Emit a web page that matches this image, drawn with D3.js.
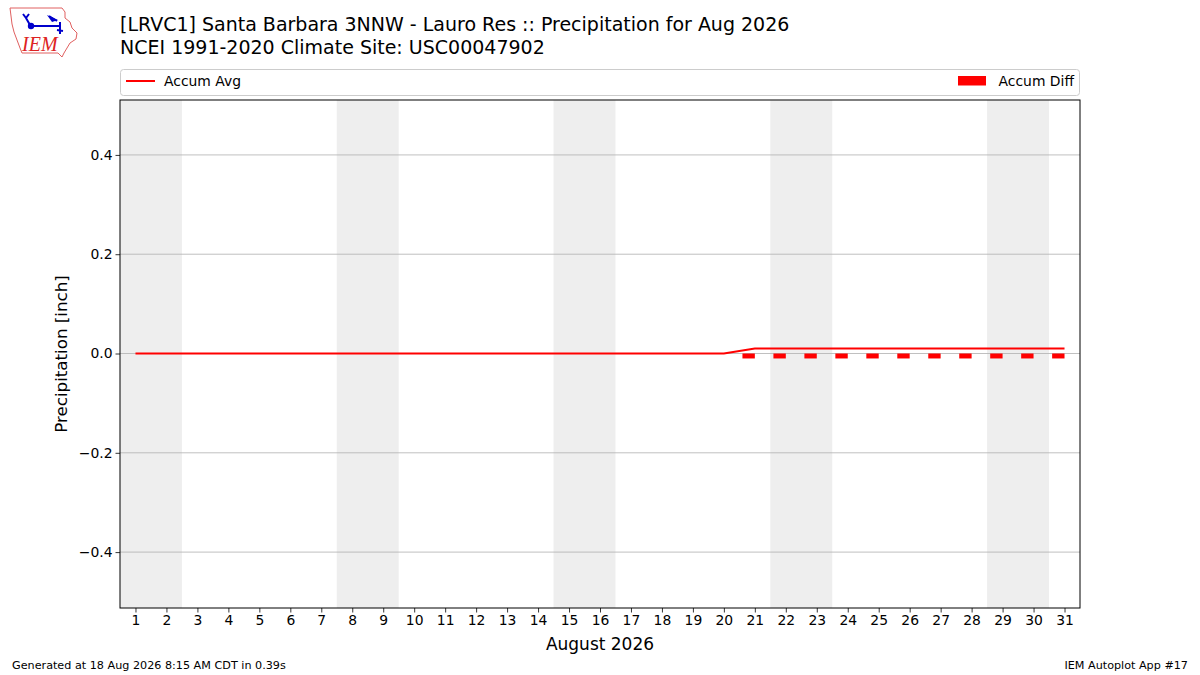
<!DOCTYPE html>
<html><head><meta charset="utf-8">
<script src="https://cdn.jsdelivr.net/npm/d3@7"></script>
<style>body{margin:0;background:#fff}svg{display:block;font-family:"DejaVu Sans",sans-serif}</style>
</head><body>
<script>
const days = d3.range(1, 32);
const accumAvg = [0,0,0,0,0,0,0,0,0,0,0,0,0,0,0,0,0,0,0,0,0.01,0.01,0.01,0.01,0.01,0.01,0.01,0.01,0.01,0.01,0.01];
const accumDiff = [0,0,0,0,0,0,0,0,0,0,0,0,0,0,0,0,0,0,0,0,-0.01,-0.01,-0.01,-0.01,-0.01,-0.01,-0.01,-0.01,-0.01,-0.01,-0.01];
const weekends = [[1,2],[8,9],[15,16],[22,23],[29,30]];
const yTicks = [-0.4,-0.2,0,0.2,0.4];
const titleLines = ["[LRVC1] Santa Barbara 3NNW - Lauro Res :: Precipitation for Aug 2026","NCEI 1991-2020 Climate Site: USC00047902"];

const W=1200,H=675;
const L=120,R=1080,T=100,B=608;
const svg=d3.select("body").append("svg").attr("width",W).attr("height",H);
const x=d3.scaleLinear().domain([0.5,31.5]).range([L,R]);
const y=d3.scaleLinear().domain([-0.5126,0.5106]).range([B,T]);

// weekend shading
svg.append("g").selectAll("rect").data(weekends).join("rect")
  .attr("x",d=>x(d[0]-0.5)).attr("width",d=>x(d[1]+0.5)-x(d[0]-0.5))
  .attr("y",T).attr("height",B-T).attr("fill","#eeeeee");

// grid
svg.append("g").selectAll("line").data(yTicks).join("line")
  .attr("x1",L).attr("x2",R).attr("y1",d=>y(d)).attr("y2",d=>y(d))
  .attr("stroke","#b0b0b0").attr("stroke-width",0.8);

// bars
svg.append("g").selectAll("rect").data(days.map((d,i)=>({d,v:accumDiff[i]})).filter(o=>o.v!==0)).join("rect")
  .attr("x",o=>x(o.d-0.4)).attr("width",o=>x(o.d)-x(o.d-0.4))
  .attr("y",o=>Math.min(y(0),y(o.v))).attr("height",o=>Math.abs(y(0)-y(o.v)))
  .attr("fill","#ff0000");

// line
svg.append("path").datum(days.map((d,i)=>[d,accumAvg[i]]))
  .attr("d",d3.line().x(d=>x(d[0])).y(d=>y(d[1])))
  .attr("fill","none").attr("stroke","#ff0000").attr("stroke-width",2);

// axes
const xa=svg.append("g").attr("transform",`translate(0,${B})`)
  .call(d3.axisBottom(x).tickValues(days).tickFormat(d3.format("d")).tickSize(4.5).tickPadding(3));
const ya=svg.append("g").attr("transform",`translate(${L},0)`)
  .call(d3.axisLeft(y).tickValues(yTicks).tickFormat(d=>(d<0?"\u2212":"")+Math.abs(d).toFixed(1)).tickSize(4.5).tickPadding(3));
[xa,ya].forEach(a=>{a.select(".domain").remove();a.selectAll("text").attr("font-size",13.9).attr("fill","#000").attr("font-family","DejaVu Sans");a.selectAll("line").attr("stroke","#000").attr("stroke-width",0.8);});

svg.append("rect").attr("x",L).attr("y",T).attr("width",R-L).attr("height",B-T)
  .attr("fill","none").attr("stroke","#000").attr("stroke-width",1);

// labels
svg.append("text").attr("x",(L+R)/2).attr("y",650).attr("text-anchor","middle").attr("font-size",17).text("August 2026");
svg.append("text").attr("transform",`translate(67,${(T+B)/2}) rotate(-90)`).attr("text-anchor","middle").attr("font-size",16.7).text("Precipitation [inch]");

// title
svg.append("g").selectAll("text").data(titleLines).join("text")
  .attr("x",120).attr("y",(d,i)=>31+i*23).attr("font-size",19).text(d=>d);

// legend
svg.append("rect").attr("x",120.5).attr("y",69.5).attr("width",959).attr("height",26).attr("rx",3)
  .attr("fill","#fff").attr("stroke","#cccccc").attr("stroke-width",1);
svg.append("line").attr("x1",126).attr("x2",155).attr("y1",81).attr("y2",81).attr("stroke","#ff0000").attr("stroke-width",2);
svg.append("text").attr("x",164).attr("y",86).attr("font-size",13.9).text("Accum Avg");
svg.append("rect").attr("x",958).attr("y",76).attr("width",28).attr("height",9.5).attr("fill","#ff0000");
svg.append("text").attr("x",1074).attr("y",86).attr("text-anchor","end").attr("font-size",13.9).text("Accum Diff");

// footer
svg.append("text").attr("x",12).attr("y",669).attr("font-size",11.2).text("Generated at 18 Aug 2026 8:15 AM CDT in 0.39s");
svg.append("text").attr("x",1188).attr("y",669).attr("text-anchor","end").attr("font-size",11.2).text("IEM Autoplot App #17");

// logo
const lg=svg.append("g");
lg.append("path").attr("d","M10,8 L62,8 L65,12 L65,18 L70,22 L72,28 L77,33 L76,39 L70,43 L67,48 L64,53 L62,57 L58,53 L22,53 L20,48 L17,40 L14,32 L12,24 L11,16 Z")
  .attr("fill","none").attr("stroke","#e06060").attr("stroke-width",1);
lg.append("path").attr("d","M31,26 L60,26 M30,25 L26,18 M26,18 L23,14 M26,18 L29,14 M49,16 L57,21 M60,22 L60,34 M57,30 L63,31")
  .attr("stroke","#0000cc").attr("stroke-width",2).attr("fill","none");
lg.append("path").attr("d","M47,15 L58,20 L52,22 Z").attr("fill","#0000cc");
lg.append("circle").attr("cx",31).attr("cy",26).attr("r",3.2).attr("fill","#0000cc");
lg.append("text").attr("x",22).attr("y",51).attr("font-family","Liberation Serif,serif").attr("font-style","italic").attr("font-size",20).attr("fill","#dd2222").text("IEM");
</script>
</body></html>
